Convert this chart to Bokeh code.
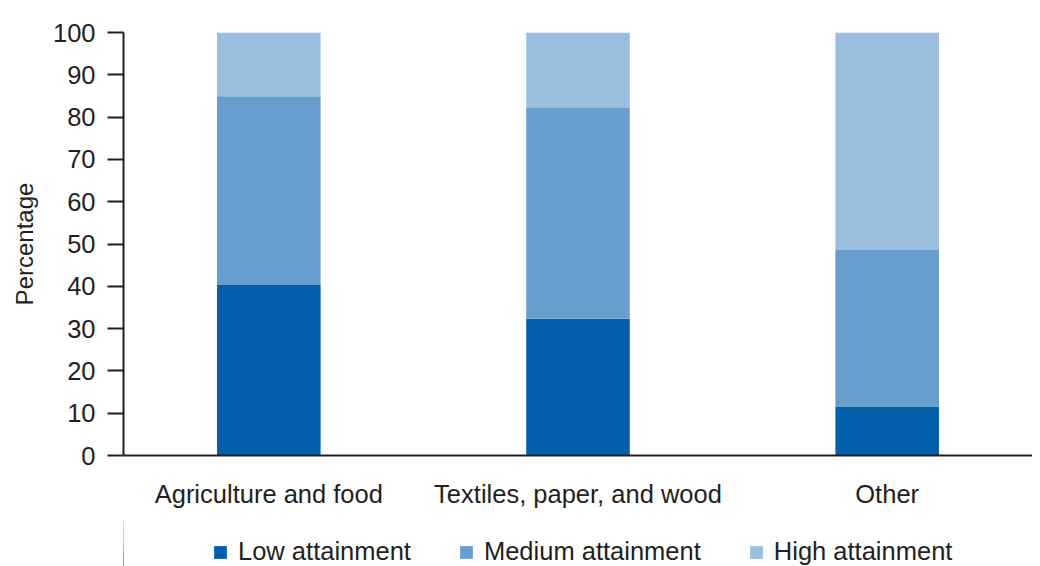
from bokeh.plotting import figure
from bokeh.layouts import column
from bokeh.models import Range1d, FixedTicker, Legend, LegendItem, ColumnDataSource
from bokeh.embed import file_html
from bokeh.resources import INLINE

categories = ["Agriculture and food", "Textiles, paper, and wood", "Other"]
series = ["Low attainment", "Medium attainment", "High attainment"]
low = [40.3, 32.3, 11.6]
medium = [44.6, 50.0, 37.0]
high = [15.1, 17.9, 51.4]
y_ticks = [0, 10, 20, 30, 40, 50, 60, 70, 80, 90, 100]

colors = ["#035fab", "#679ecd", "#9cbfe0"]
text_color = "#231f20"
FONT = "Liberation Sans"
FS = "25.5px"

xs = list(range(len(categories)))
source = ColumnDataSource(dict(x=xs, low=low, medium=medium, high=high))
stack_cols = ["low", "medium", "high"]

p = figure(width=1032, height=520, output_backend="svg", toolbar_location=None,
           x_range=Range1d(-0.47, 2.47), y_range=Range1d(0, 100),
           min_border_left=123, min_border_top=32, min_border_right=0, min_border_bottom=65)

p.vbar_stack(stack_cols, x="x", width=0.335, source=source, color=colors, line_width=0)

p.outline_line_color = None
p.grid.grid_line_color = None
p.background_fill_color = "white"
p.border_fill_color = "white"

# y axis
p.yaxis.ticker = FixedTicker(ticks=y_ticks)
p.yaxis.minor_tick_line_color = None
p.yaxis.major_tick_in = 0
p.yaxis.major_tick_out = 16
p.yaxis.major_tick_line_width = 2
p.yaxis.major_tick_line_color = text_color
p.yaxis.axis_line_width = 2
p.yaxis.axis_line_color = text_color
p.yaxis.major_label_text_font = FONT
p.yaxis.major_label_text_font_size = FS
p.yaxis.major_label_text_color = text_color
p.yaxis.major_label_standoff = 12
p.yaxis.axis_label = "Percentage"
p.yaxis.axis_label_text_font = FONT
p.yaxis.axis_label_text_font_size = "24px"
p.yaxis.axis_label_text_font_style = "normal"
p.yaxis.axis_label_text_color = text_color
p.yaxis.axis_label_standoff = 12

# x axis
p.xaxis.ticker = FixedTicker(ticks=xs)
p.xaxis.major_label_overrides = {i: c for i, c in zip(xs, categories)}
p.xaxis.major_tick_line_color = None
p.xaxis.major_tick_in = 0
p.xaxis.major_tick_out = 0
p.xaxis.minor_tick_line_color = None
p.xaxis.minor_tick_in = 0
p.xaxis.minor_tick_out = 0
p.xaxis.axis_line_width = 2
p.xaxis.axis_line_color = text_color
p.xaxis.major_label_text_font = FONT
p.xaxis.major_label_text_font_size = FS
p.xaxis.major_label_text_color = text_color
p.xaxis.major_label_standoff = 24

# legend strip below the chart (its frame is aligned with the chart frame)
lf = figure(width=1032, height=46, output_backend="svg", toolbar_location=None,
            x_range=Range1d(100, 101), y_range=Range1d(0, 100),
            x_axis_type=None, y_axis_type=None,
            min_border_left=0, min_border_top=0, min_border_right=0, min_border_bottom=0)
lf.outline_line_color = None
lf.background_fill_color = "white"
lf.border_fill_color = "white"
legend_renderers = lf.vbar_stack(stack_cols, x="x", width=0.335, source=source,
                                 color=colors, line_width=0)

legend = Legend(items=[LegendItem(label=s, renderers=[r]) for s, r in zip(series, legend_renderers)],
                orientation="horizontal", location=(89, 0))
legend.label_text_font = FONT
legend.label_text_font_size = FS
legend.label_text_color = text_color
legend.glyph_width = 16
legend.glyph_height = 16
legend.label_standoff = 10
legend.spacing = 47
legend.padding = 0
legend.margin = 0
legend.border_line_color = None
legend.background_fill_alpha = 0
lf.add_layout(legend, "center")

layout = column(p, lf, spacing=0)
open("out.html", "w").write(file_html(layout, INLINE))
